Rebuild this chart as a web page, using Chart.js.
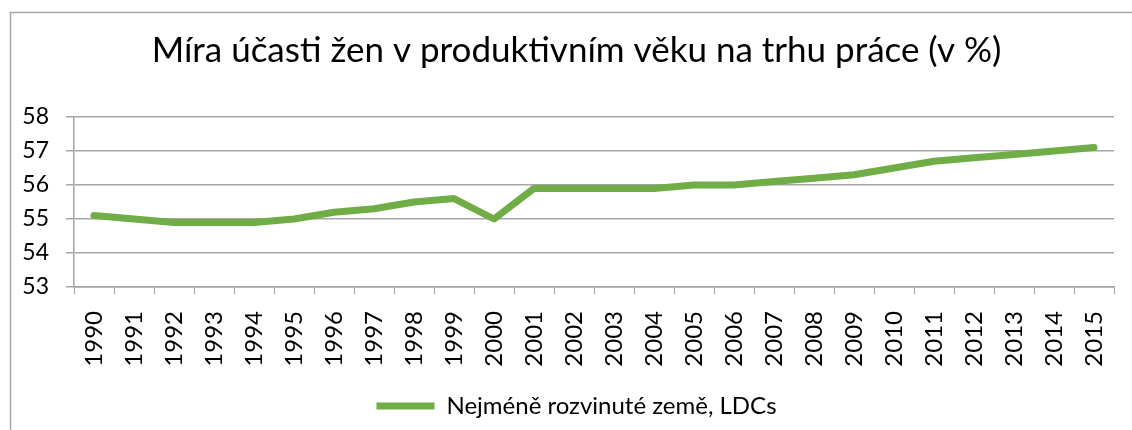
<!DOCTYPE html>
<html>
<head>
<meta charset="utf-8">
<script src="https://cdn.jsdelivr.net/npm/chart.js@4"></script>
<style>
  html, body { margin: 0; padding: 0; background: #fff; }
  #wrap { width: 1132px; height: 430px; position: relative; }
</style>
</head>
<body>
<div id="wrap"><canvas id="lfprChart"></canvas></div>
<script>
const years = ['1990', '1991', '1992', '1993', '1994', '1995', '1996', '1997', '1998', '1999',
    '2000', '2001', '2002', '2003', '2004', '2005', '2006', '2007', '2008', '2009',
    '2010', '2011', '2012', '2013', '2014', '2015'];
const ldcValues = [55.1, 55.0, 54.9, 54.9, 54.9, 55.0, 55.2, 55.3, 55.5, 55.6,
    55.0, 55.9, 55.9, 55.9, 55.9, 56.0, 56.0, 56.1, 56.2, 56.3,
    56.5, 56.7, 56.8, 56.9, 57.0, 57.1];
const seriesName = 'Nejméně rozvinuté země, LDCs';
const chartTitle = 'Míra účasti žen v produktivním věku na trhu práce (v %)';
const yMin = 53;
const yMax = 58;

const fontFamily = 'Lato, "Open Sans", "Noto Sans", sans-serif';
const gridColor = '#a6a6a6';

// outer chart frame like the spreadsheet chart object
const framePlugin = {
    id: 'frame',
    beforeDraw(chart) {
        const ctx = chart.ctx;
        ctx.save();
        ctx.strokeStyle = '#a6a6a6';
        ctx.lineWidth = 1.5;
        ctx.strokeRect(10.5, 12.5, 1400, 600);
        ctx.restore();
    }
};

// title and legend sit a bit right of the canvas centre in the original
const centreShift = {
    id: 'centreShift',
    afterLayout(chart) {
        chart.titleBlock.left += 29;
        chart.legend.left += 29;
    }
};

const ctx = document.getElementById('lfprChart').getContext('2d');
new Chart(ctx, {
    type: 'line',
    data: {
        labels: years,
        datasets: [{
            label: seriesName,
            data: ldcValues,
            borderColor: '#70ad47',
            backgroundColor: '#70ad47',
            borderWidth: 7,
            borderCapStyle: 'round',
            borderJoinStyle: 'round',
            pointRadius: 0,
            pointHoverRadius: 0,
            tension: 0,
            fill: false
        }]
    },
    options: {
        responsive: true,
        maintainAspectRatio: false,
        animation: false,
        layout: {
            padding: { left: 10, right: 18, top: 0, bottom: 2 }
        },
        scales: {
            x: {
                offset: true,
                grid: {
                    offset: true,
                    drawOnChartArea: false,
                    color: gridColor,
                    tickLength: 7
                },
                border: { color: gridColor, width: 1.5 },
                ticks: {
                    color: '#000',
                    font: { family: fontFamily, size: 24 },
                    minRotation: 90,
                    maxRotation: 90,
                    autoSkip: false,
                    padding: 17
                },
                afterFit(scale) {
                    scale.height = 97;
                    scale.paddingLeft = 0;
                    scale.paddingRight = 0;
                }
            },
            y: {
                min: yMin,
                max: yMax,
                grid: {
                    color: gridColor,
                    lineWidth: 1.5,
                    tickLength: 8
                },
                border: { color: gridColor, width: 1.5 },
                ticks: {
                    stepSize: 1,
                    color: '#000',
                    font: { family: fontFamily, size: 23 },
                    padding: 17
                },
                afterFit(scale) { scale.width = 64; }
            }
        },
        plugins: {
            title: {
                display: true,
                text: chartTitle,
                color: '#000',
                font: { family: fontFamily, size: 35, weight: 'normal' },
                padding: { top: 30, bottom: 45 }
            },
            legend: {
                display: true,
                position: 'bottom',
                labels: {
                    color: '#000',
                    font: { family: fontFamily, size: 24 },
                    usePointStyle: true,
                    pointStyle: 'line',
                    pointStyleWidth: 58,
                    padding: 10
                }
            },
            tooltip: { enabled: false }
        }
    },
    plugins: [framePlugin, centreShift]
});
</script>
</body>
</html>
